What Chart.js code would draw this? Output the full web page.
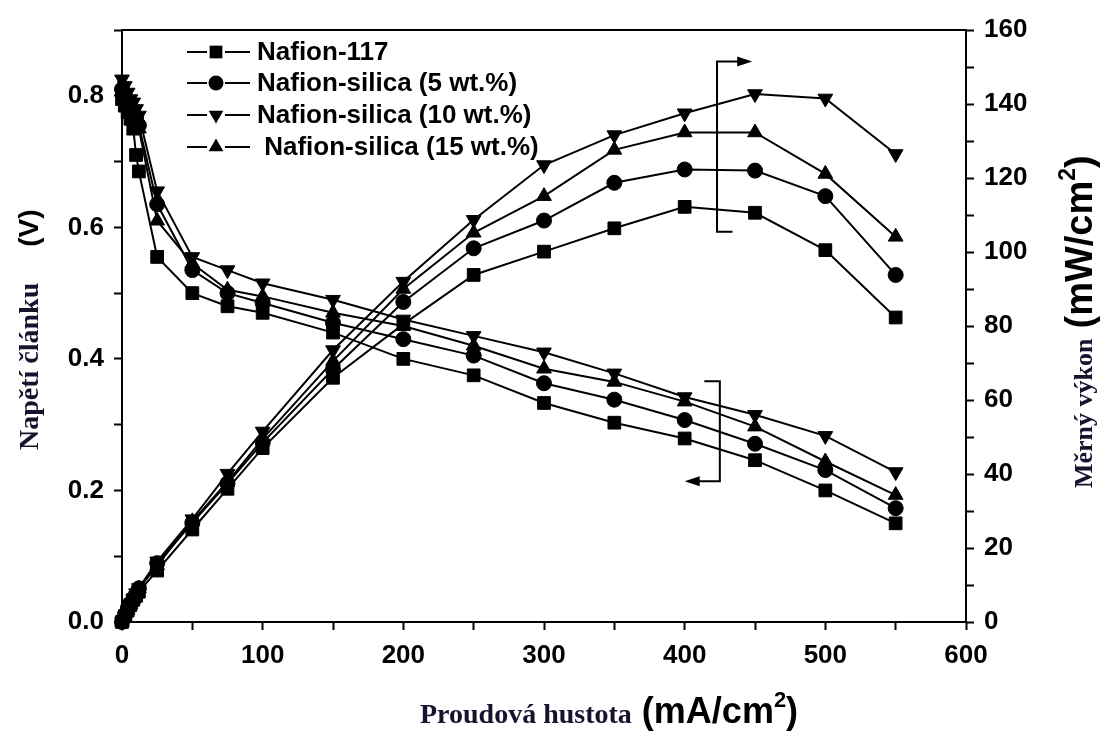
<!DOCTYPE html>
<html>
<head>
<meta charset="utf-8">
<script src="https://cdn.jsdelivr.net/npm/chart.js@4.4.1/dist/chart.umd.min.js"></script>
<style>
  html, body { margin: 0; padding: 0; background: #fff; }
  #wrap { width: 1101px; height: 731px; position: relative; }
</style>
</head>
<body>
<div id="wrap"><canvas id="chart"></canvas></div>
<script>
// proudová hustota (mA/cm2) - same for all series
const currentDensity = [0, 2, 4, 6, 8, 10, 12, 25, 50, 75, 100, 150, 200, 250, 300, 350, 400, 450, 500, 550];

const seriesNames = ['Nafion-117', 'Nafion-silica (5 wt.%)', 'Nafion-silica (10 wt.%)', ' Nafion-silica (15 wt.%)'];

// napětí článku (V)
const voltageN117 = [0.795, 0.785, 0.775, 0.765, 0.75, 0.71, 0.685, 0.555, 0.50, 0.48, 0.47, 0.44, 0.40, 0.375, 0.333, 0.303, 0.279, 0.246, 0.20, 0.15];
const voltageS5   = [0.81, 0.80, 0.79, 0.78, 0.775, 0.765, 0.755, 0.635, 0.535, 0.50, 0.485, 0.455, 0.43, 0.405, 0.363, 0.338, 0.307, 0.271, 0.231, 0.173];
const voltageS10  = [0.825, 0.815, 0.805, 0.795, 0.79, 0.78, 0.77, 0.655, 0.555, 0.535, 0.515, 0.49, 0.46, 0.435, 0.41, 0.378, 0.342, 0.315, 0.283, 0.228];
const voltageS15  = [0.815, 0.805, 0.795, 0.785, 0.775, 0.765, 0.75, 0.61, 0.545, 0.505, 0.495, 0.47, 0.45, 0.42, 0.385, 0.365, 0.335, 0.297, 0.244, 0.193];

// měrný výkon (mW/cm2)
const powerN117 = [0, 1.6, 3.1, 4.6, 6.0, 7.1, 8.2, 13.9, 25, 36, 47, 66, 80.5, 93.8, 100.1, 106.4, 112.2, 110.6, 100.5, 82.3];
const powerS5   = [0, 1.6, 3.2, 4.7, 6.2, 7.6, 9.1, 15.9, 26.8, 37.5, 48.5, 68.3, 86.5, 101, 108.5, 118.7, 122.3, 122.0, 115.1, 93.8];
const powerS10  = [0, 1.6, 3.2, 4.8, 6.3, 7.8, 9.2, 16.4, 27.8, 40.1, 51.5, 73.5, 92, 108.7, 123.5, 131.6, 137.5, 142.7, 141.5, 126.5];
const powerS15  = [0, 1.6, 3.2, 4.7, 6.2, 7.6, 9.0, 15.3, 27.2, 37.9, 49.5, 70.5, 90, 105.2, 115.1, 127.6, 132.3, 132.3, 121.1, 104.1];

const markers = [
  { style: 'rect', radius: 9, rotation: 0 },
  { style: 'circle', radius: 7.5, rotation: 0 },
  { style: 'triangle', radius: 8.5, rotation: 180 },
  { style: 'triangle', radius: 8.5, rotation: 0 }
];

const voltages = [voltageN117, voltageS5, voltageS10, voltageS15];
const powers = [powerN117, powerS5, powerS10, powerS15];

const SANS = "'Liberation Sans', Arial, sans-serif";
const SERIF = "'Liberation Serif', 'Times New Roman', serif";
const INK = '#000';

function toPoints(ys) {
  return currentDensity.map((x, i) => ({ x: x, y: ys[i] }));
}

function makeDataset(ys, i, axis) {
  return {
    label: seriesNames[i],
    data: toPoints(ys),
    yAxisID: axis,
    showLine: true,
    borderColor: INK,
    borderWidth: 2,
    backgroundColor: INK,
    pointStyle: markers[i].style,
    pointRadius: markers[i].radius,
    pointRotation: markers[i].rotation,
    pointBackgroundColor: INK,
    pointBorderColor: INK,
    pointBorderWidth: 1,
    tension: 0,
    clip: false
  };
}

const datasets = [];
voltages.forEach((v, i) => datasets.push(makeDataset(v, i, 'y')));
powers.forEach((p, i) => datasets.push(makeDataset(p, i, 'y1')));

function drawMarker(ctx, m, x, y) {
  const r = m.radius;
  ctx.beginPath();
  if (m.style === 'rect') {
    const s = r * Math.SQRT1_2;
    ctx.rect(x - s, y - s, 2 * s, 2 * s);
  } else if (m.style === 'circle') {
    ctx.arc(x, y, r, 0, Math.PI * 2);
  } else {
    let rad = m.rotation * Math.PI / 180;
    for (let k = 0; k < 3; k++) {
      const px = x + Math.sin(rad) * r, py = y - Math.cos(rad) * r;
      if (k === 0) ctx.moveTo(px, py); else ctx.lineTo(px, py);
      rad += Math.PI * 2 / 3;
    }
    ctx.closePath();
  }
  ctx.fill();
}

// legenda uvnitř grafu
const legendPlugin = {
  id: 'insideLegend',
  afterDraw(chart) {
    const ctx = chart.ctx;
    const rows = [52, 83, 115, 147];
    ctx.save();
    ctx.strokeStyle = INK;
    ctx.fillStyle = INK;
    ctx.lineWidth = 2;
    ctx.font = 'bold 26px ' + SANS;
    ctx.textBaseline = 'middle';
    rows.forEach((y, i) => {
      ctx.beginPath();
      ctx.moveTo(187, y); ctx.lineTo(207, y);
      ctx.moveTo(225, y); ctx.lineTo(250, y);
      ctx.stroke();
      drawMarker(ctx, markers[i], 216, y);
      ctx.fillText(seriesNames[i], 257, y + 1);
    });
    ctx.restore();
  }
};

function arrowHead(ctx, x, y, dir) {
  ctx.beginPath();
  ctx.moveTo(x, y);
  ctx.lineTo(x - dir * 15, y - 5);
  ctx.lineTo(x - dir * 15, y + 5);
  ctx.closePath();
  ctx.fill();
}

// závorky se šipkami k osám
const bracketPlugin = {
  id: 'brackets',
  afterDatasetsDraw(chart) {
    const { ctx, scales } = chart;
    const X = v => scales.x.getPixelForValue(v);
    const YL = v => scales.y.getPixelForValue(v);
    const YR = v => scales.y1.getPixelForValue(v);
    ctx.save();
    ctx.strokeStyle = INK;
    ctx.fillStyle = INK;
    ctx.lineWidth = 2;
    // power -> right axis
    ctx.beginPath();
    ctx.moveTo(X(434), YR(105.5));
    ctx.lineTo(X(423), YR(105.5));
    ctx.lineTo(X(423), YR(151.5));
    ctx.lineTo(X(440), YR(151.5));
    ctx.stroke();
    arrowHead(ctx, X(448), YR(151.5), 1);
    // voltage -> left axis
    ctx.beginPath();
    ctx.moveTo(X(414), YL(0.366));
    ctx.lineTo(X(425), YL(0.366));
    ctx.lineTo(X(425), YL(0.214));
    ctx.lineTo(X(408), YL(0.214));
    ctx.stroke();
    arrowHead(ctx, X(400), YL(0.214), -1);
    ctx.restore();
  }
};

function drawParts(ctx, parts, x, y, rotate) {
  ctx.save();
  ctx.translate(x, y);
  if (rotate) ctx.rotate(-Math.PI / 2);
  ctx.textBaseline = 'alphabetic';
  ctx.textAlign = 'left';
  let cx = 0;
  parts.forEach(p => {
    ctx.font = p.font;
    ctx.fillStyle = p.color || INK;
    cx += p.gap || 0;
    ctx.fillText(p.text, cx, p.dy || 0);
    cx += ctx.measureText(p.text).width;
  });
  ctx.restore();
}

// rám a popisky os
const framePlugin = {
  id: 'frameTitles',
  afterDraw(chart) {
    const { ctx, chartArea } = chart;
    ctx.save();
    ctx.strokeStyle = INK;
    ctx.lineWidth = 2;
    ctx.beginPath();
    ctx.moveTo(chartArea.left, chartArea.top);
    ctx.lineTo(chartArea.right, chartArea.top);
    ctx.stroke();
    ctx.restore();

    const titleInk = '#14142e';
    drawParts(ctx, [
      { text: 'Proudová hustota', font: 'bold 28px ' + SERIF, color: titleInk },
      { text: '(mA/cm', font: 'bold 36px ' + SANS, gap: 10 },
      { text: '2', font: 'bold 22px ' + SANS, dy: -16 },
      { text: ')', font: 'bold 36px ' + SANS }
    ], 420, 723, false);

    drawParts(ctx, [
      { text: 'Napětí článku', font: 'bold 28px ' + SERIF, color: titleInk },
      { text: '(V)', font: 'bold 28px ' + SANS, gap: 36 }
    ], 38, 450, true);

    drawParts(ctx, [
      { text: 'Měrný výkon', font: 'bold 26px ' + SERIF, color: titleInk },
      { text: '(mW/cm', font: 'bold 38px ' + SANS, gap: 10 },
      { text: '2', font: 'bold 23px ' + SANS, dy: -17 },
      { text: ')', font: 'bold 38px ' + SANS }
    ], 1092, 488, true);
  }
};

const tickFont = { family: SANS, size: 26, weight: 'bold' };
const axisGrid = { drawOnChartArea: false, drawTicks: true, tickLength: 8, tickWidth: 2, tickColor: INK, color: INK };
const axisBorder = { display: true, color: INK, width: 2 };

new Chart(document.getElementById('chart'), {
  type: 'scatter',
  data: { datasets: datasets },
  options: {
    responsive: true,
    maintainAspectRatio: false,
    animation: false,
    layout: { padding: { top: 30, left: 0, right: 0, bottom: 0 } },
    plugins: {
      legend: { display: false },
      tooltip: { enabled: false }
    },
    scales: {
      x: {
        type: 'linear',
        min: 0, max: 600,
        grid: axisGrid,
        border: axisBorder,
        ticks: {
          stepSize: 50, autoSkip: false, maxRotation: 0, padding: 10,
          color: INK, font: tickFont,
          callback: v => (v % 100 === 0 ? v : '')
        },
        afterFit: s => { s.height = 109; }
      },
      y: {
        type: 'linear',
        position: 'left',
        min: 0, max: 0.9,
        grid: axisGrid,
        border: axisBorder,
        ticks: {
          stepSize: 0.1, autoSkip: false, padding: 10,
          color: INK, font: tickFont,
          callback: v => (Math.round(v * 10) % 2 === 0 ? v.toFixed(1) : '')
        },
        afterFit: s => { s.width = 122; }
      },
      y1: {
        type: 'linear',
        position: 'right',
        min: 0, max: 160,
        grid: axisGrid,
        border: axisBorder,
        ticks: {
          stepSize: 10, autoSkip: false, padding: 10,
          color: INK, font: tickFont,
          callback: v => (v % 20 === 0 ? v : '')
        },
        afterFit: s => { s.width = 135; }
      }
    }
  },
  plugins: [bracketPlugin, legendPlugin, framePlugin]
});
</script>
</body>
</html>
